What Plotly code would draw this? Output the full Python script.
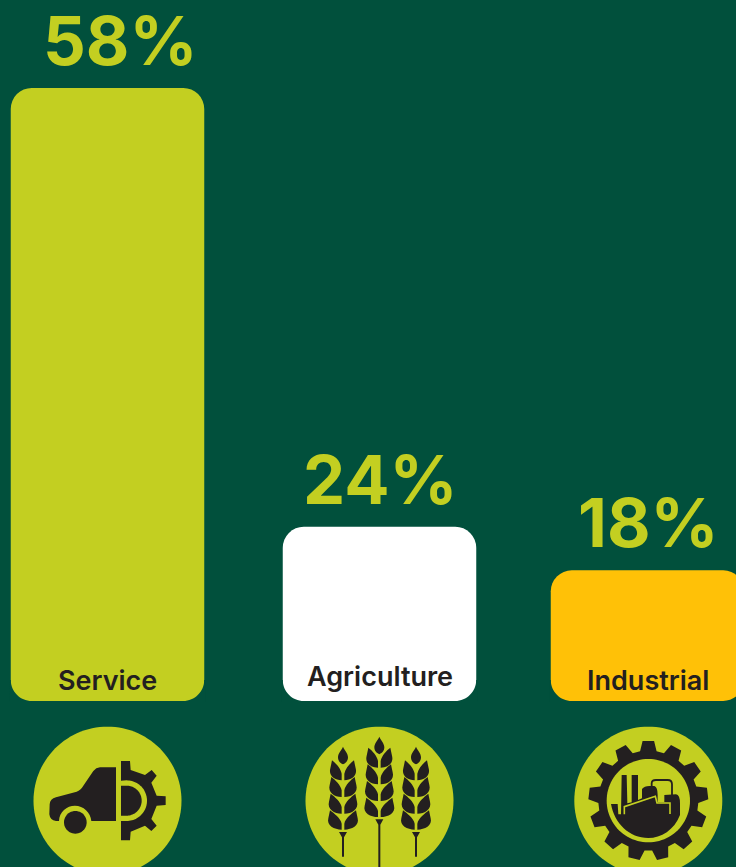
import math
import re
import plotly.graph_objects as go

# Sector shares, each with the colour of its bar
sectors = ["Service", "Agriculture", "Industrial"]
shares = [58, 24, 18]
bar_colors = ["#c3cf21", "#ffffff", "#ffc107"]

BG = "#01503c"
LIME = "#c3cf21"
INK = "#231f20"
W, H = 736, 867
FONT = "Inter"

# Page layout, in pixels
BASE_Y = 701
PX_PER_UNIT_TALL = 10.57   # scale of the leading bar
PX_PER_UNIT_SHORT = 7.26   # scale of the two smaller bars
STEP = 270
BAR_W = 193.5
FIRST_CENTRE = 107.5
NUDGE = [0, 2, 0]
ICON_CENTRE = [107.5, 379.5, 648.3]
ICON_Y = 800.7
ICON_R = 74


def px_path(d, ox=0.0, oy=0.0, k=1.0):
    """Turn an absolute pixel path into paper coordinates."""
    out, is_x = [], True
    for tok in re.findall(r"[A-Za-z]|-?\d+\.?\d*", d):
        if tok.isalpha():
            out.append(tok)
            is_x = True
        else:
            v = float(tok)
            if is_x:
                out.append(f"{(ox + v * k) / W:.5f}")
            else:
                out.append(f"{1 - (oy + v * k) / H:.5f}")
            is_x = not is_x
    return " ".join(out)


def arc(cx, cy, r, a0, a1, n=48):
    pts = []
    for i in range(n + 1):
        a = math.radians(a0 + (a1 - a0) * i / n)
        pts.append((cx + r * math.cos(a), cy + r * math.sin(a)))
    return pts


def poly(pts):
    return "M" + " L".join(f"{x:.2f},{y:.2f}" for x, y in pts) + " Z"


def filled(d, color, ox=0.0, oy=0.0, k=1.0):
    return dict(type="path", xref="paper", yref="paper", path=px_path(d, ox, oy, k),
                fillcolor=color, line=dict(width=0), layer="above")


def stroked(d, color, width, ox=0.0, oy=0.0, k=1.0):
    return dict(type="path", xref="paper", yref="paper", path=px_path(d, ox, oy, k),
                fillcolor="rgba(0,0,0,0)", line=dict(color=color, width=width), layer="above")


def foot_corners(left, right, r=21):
    """Round the lower corners of a bar by painting the background over them."""
    y = BASE_Y
    c = 0.45 * r
    left_d = (f"M{left - 1},{y + 1} L{left - 1},{y - r} L{left},{y - r} "
              f"C{left},{y - c} {left + c},{y} {left + r},{y} L{left + r},{y + 1} Z")
    right_d = (f"M{right + 1},{y + 1} L{right + 1},{y - r} L{right},{y - r} "
               f"C{right},{y - c} {right - c},{y} {right - r},{y} L{right - r},{y + 1} Z")
    return [filled(left_d, BG), filled(right_d, BG)]


def service_icon(ox, oy):
    k = 1 / 3
    s = [
        "M288,157 L240,157 Q228,158 220,168 L190,212 Q182,226 170,230 L108,247 Q90,252 89,268 "
        "L88,298 Q90,316 108,318 L117,318 C118,290 140,272 165,272 C190,272 212,292 214,318 L288,318 Z",
        poly(arc(166, 322, 34, 0, 360)),
        "M303,138 L330,138 L332,165 L375,180 L395,165 L410,182 L394,203 L410,242 L437,244 L437,270 "
        "L410,272 L394,312 L410,332 L394,348 L375,332 L332,350 L330,376 L303,376 Z",
    ]
    shapes = [filled(d, INK, ox, oy, k) for d in s]
    ring = [(303, 197)] + arc(320, 257, 61, -90, 90) + [(303, 318)]
    core = [(303, 212)] + arc(320, 257, 45, -90, 90) + [(303, 302)]
    shapes.append(filled(poly(ring), LIME, ox, oy, k))
    shapes.append(filled(poly(core), INK, ox, oy, k))
    return shapes


def wheat_ear(cx, top, first_row, stem_end, shapes, ox, oy):
    k = 1 / 3
    b = top + 53
    crown = (f"M{cx},{top} C{cx + 5},{top + 12} {cx + 15},{top + 20} {cx + 15},{top + 32} "
             f"C{cx + 15},{top + 45} {cx + 6},{b - 3} {cx},{b} "
             f"C{cx - 6},{b - 3} {cx - 15},{top + 45} {cx - 15},{top + 32} "
             f"C{cx - 15},{top + 20} {cx - 5},{top + 12} {cx},{top} Z")
    shapes.append(filled(crown, INK, ox, oy, k))
    for i in range(4):
        y0 = first_row + 50 * i
        reach = 33 + 2 * i
        tall = 60 - (2 if i == 3 else 0)
        for sgn in (-1, 1):
            tip_x = cx + sgn * reach
            in_x = cx + sgn * 4
            leaf = (f"M{tip_x},{y0} C{tip_x - sgn * 12},{y0 + 9} {in_x + sgn * 3},{y0 + 24} {in_x},{y0 + 40} "
                    f"L{in_x},{y0 + tall} C{in_x + sgn * 22},{y0 + tall} {tip_x + sgn * 11},{y0 + 46} "
                    f"{tip_x + sgn * 5},{y0 + 24} Q{tip_x + sgn * 2},{y0 + 10} {tip_x},{y0} Z")
            shapes.append(filled(leaf, INK, ox, oy, k))
    foot = first_row + 215
    stem = (f"M{cx - 12},{foot} L{cx + 12},{foot} L{cx + 3},{foot + 16} L{cx + 3},{stem_end} "
            f"L{cx - 3},{stem_end} L{cx - 3},{foot + 16} Z")
    shapes.append(filled(stem, INK, ox, oy, k))


def wheat_icon(ox, oy):
    shapes = []
    wheat_ear(153, 95, 136, 425, shapes, ox, oy)
    wheat_ear(262, 65, 98, 470, shapes, ox, oy)
    wheat_ear(372, 95, 136, 425, shapes, ox, oy)
    return shapes


def factory_icon(ox, oy):
    k = 1 / 3
    cx, cy = 262, 257
    teeth = 13
    pts = []
    for i in range(teeth):
        a = -90 + i * 360 / teeth
        for dev, rad in ((-9.5, 150), (-5.5, 180), (5.5, 180), (9.5, 150)):
            t = math.radians(a + dev)
            pts.append((cx + rad * math.cos(t), cy + rad * math.sin(t)))
    shapes = [filled(poly(pts), INK, ox, oy, k)]
    shapes.append(filled(poly(arc(cx, cy, 125, 0, 360, 96)), LIME, ox, oy, k))
    mass = ("M150,267 L170,267 L172,298 L180,298 L182,180 L197,180 L199,265 L212,262 L212,180 "
            "L231,180 L231,255 L243,250 L243,222 Q250,213 265,213 L280,213 Q290,216 290,240 "
            "L290,262 L310,262 L310,240 L345,238 Q357,240 357,265 L357,300 "
            "C340,345 300,369 262,369 C205,369 160,325 150,267 Z")
    shapes.append(filled(mass, INK, ox, oy, k))
    shapes.append(stroked("M190,298 L190,275 L283,244 L288,264 L327,264 L327,297", LIME, 1.6, ox, oy, k))
    shapes.append(stroked("M272,213 L272,205 Q272,195 285,195 L320,195 Q333,195 333,208 L333,240",
                          INK, 1.8, ox, oy, k))
    return shapes


half = BAR_W / STEP / 2
offsets = [-half + n / STEP for n in NUDGE]

fig = go.Figure()
fig.add_bar(x=sectors[:1], y=shares[:1], marker=dict(color=bar_colors[:1], cornerradius=21, line_width=0),
            width=BAR_W / STEP, offset=offsets[:1], yaxis="y", hoverinfo="skip")
fig.add_bar(x=sectors[1:], y=shares[1:], marker=dict(color=bar_colors[1:], cornerradius=21, line_width=0),
            width=BAR_W / STEP, offset=offsets[1:], yaxis="y2", hoverinfo="skip")

# Percentages above the bars, sector names at their feet
pct_shift = [12.5, 0.5, 0.5]
name_lift = [2, 6, 2]
annotations = []
for i, (name, val) in enumerate(zip(sectors, shares)):
    yref = "y" if i == 0 else "y2"
    annotations.append(dict(x=name, y=val, xref="x", yref=yref, text=f"{val}%", showarrow=False,
                            xshift=pct_shift[i] + NUDGE[i], yshift=5, yanchor="bottom",
                            font=dict(family=FONT, size=67, color=LIME, weight=700)))
    annotations.append(dict(x=name, y=0, xref="x", yref=yref, text=name, showarrow=False,
                            xshift=NUDGE[i], yshift=name_lift[i], yanchor="bottom",
                            font=dict(family=FONT, size=27, color=INK, weight=600)))

shapes = []
for i in range(len(sectors)):
    left = FIRST_CENTRE + STEP * i + NUDGE[i] - BAR_W / 2
    shapes += foot_corners(round(left, 1), round(left + BAR_W, 1))
for cx in ICON_CENTRE:
    shapes.append(filled(poly(arc(cx, ICON_Y, ICON_R, 0, 360, 120)), LIME))
shapes += service_icon(20, 715)
shapes += wheat_icon(292, 715)
shapes += factory_icon(561, 715)

domain_low = 1 - BASE_Y / H
fig.update_layout(
    width=W, height=H, margin=dict(l=0, r=0, t=0, b=0, pad=0),
    paper_bgcolor=BG, plot_bgcolor=BG, showlegend=False, barmode="overlay",
    xaxis=dict(type="category", categoryorder="array", categoryarray=sectors, visible=False,
               range=[-FIRST_CENTRE / STEP, (W - FIRST_CENTRE) / STEP]),
    yaxis=dict(visible=False, domain=[domain_low, 1], range=[0, BASE_Y / PX_PER_UNIT_TALL]),
    yaxis2=dict(visible=False, domain=[domain_low, 1], overlaying="y",
                range=[0, BASE_Y / PX_PER_UNIT_SHORT]),
    annotations=annotations, shapes=shapes,
)
fig.write_html("out.html", config={"displayModeBar": False})
